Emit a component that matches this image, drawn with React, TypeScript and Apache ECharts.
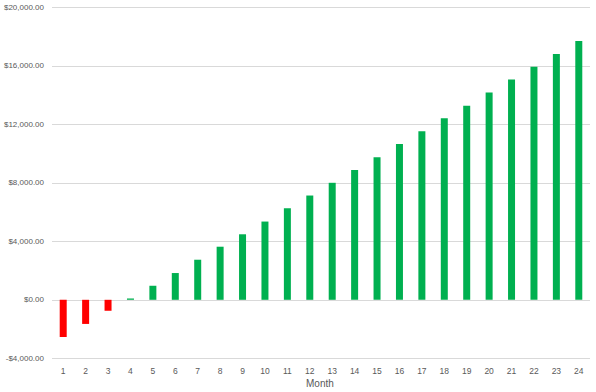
import React, { useEffect, useRef } from "react";
import * as echarts from "echarts";

const months = ["1","2","3","4","5","6","7","8","9","10","11","12","13","14","15","16","17","18","19","20","21","22","23","24"];
const profit = [-2540, -1650, -750, 90, 960, 1830, 2740, 3630, 4480, 5350, 6260, 7130, 8000, 8870, 9740, 10650, 11520, 12410, 13260, 14170, 15060, 15930, 16800, 17700];
const xAxisTitle = "Month";
const positiveColor = "#00B050";
const negativeColor = "#FF0000";

const fmt = (v: number) => {
  const s = Math.abs(v).toLocaleString("en-US", { minimumFractionDigits: 2, maximumFractionDigits: 2 });
  return (v < 0 ? "-$" : "$") + s;
};

export default function App() {
  const ref = useRef<HTMLDivElement>(null);
  useEffect(() => {
    if (!ref.current) return;
    const chart = echarts.init(ref.current, null, { renderer: "svg" });
    chart.setOption({
      animation: false,
      backgroundColor: "#ffffff",
      grid: { left: 52, right: 6, top: 7.3, bottom: 33.7, containLabel: false },
      graphic: [
        {
          type: "text",
          left: 321 - 15,
          top: 378,
          style: { text: xAxisTitle, fill: "#595959", font: "10px 'Liberation Sans'" },
        },
      ],
      xAxis: {
        type: "category",
        data: months,
        axisLine: { show: false, onZero: false },
        axisTick: { show: false },
        axisLabel: { color: "#595959", fontSize: 8.5, fontFamily: "Liberation Sans", margin: 8 },
      },
      yAxis: {
        type: "value",
        min: -4000,
        max: 20000,
        interval: 4000,
        axisLine: { show: false },
        axisTick: { show: false },
        splitLine: { lineStyle: { color: "#D9D9D9", width: 1 } },
        axisLabel: { color: "#595959", fontSize: 8, fontFamily: "Liberation Sans", margin: 8, formatter: fmt },
      },
      series: [
        {
          type: "bar",
          barWidth: 7,
          data: profit.map((v) => ({
            value: v,
            itemStyle: { color: v < 0 ? negativeColor : positiveColor },
          })),
        },
      ],
    });
    return () => chart.dispose();
  }, []);
  return <div ref={ref} style={{ width: 596, height: 392, position: "absolute", left: 0, top: 0 }} />;
}
